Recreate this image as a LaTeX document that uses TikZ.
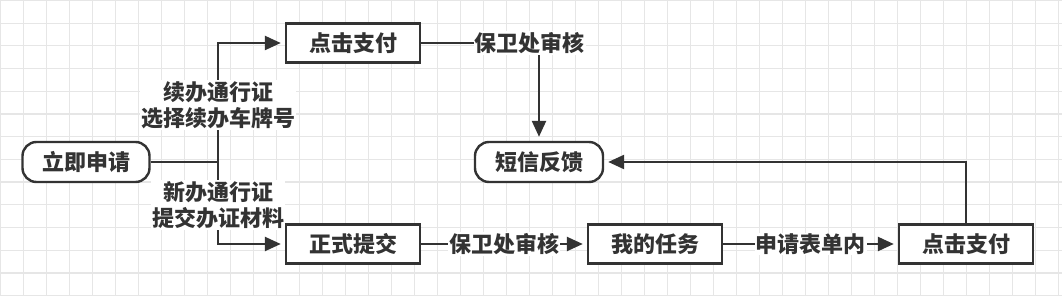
\documentclass[tikz,border=0pt]{standalone}
\usepackage{fontspec}
\setmainfont{Noto Sans CJK SC}
\usepackage{xcolor}
\usepackage{tikz}
\usetikzlibrary{arrows.meta, calc}
\definecolor{FlowInk}{HTML}{333333}
\definecolor{GridGray}{HTML}{E6E6E6}

\tikzset{
  gridline/.style={GridGray, line width=1.2pt},
  stepbox/.style={draw=FlowInk, line width=2.4pt, fill=white, minimum width=134pt,
    minimum height=39pt, inner sep=0pt, text=FlowInk, font=\fontsize{22}{26}\selectfont\bfseries},
  endbox/.style={stepbox, rounded corners=14pt, minimum width=127pt, minimum height=40pt},
  flow/.style={draw=FlowInk, line width=2.4pt, -{Triangle[length=16pt,width=14pt]}, shorten >=4pt},
  plain/.style={draw=FlowInk, line width=2.4pt},
  lbl/.style={fill=white, inner sep=1pt, text=FlowInk, align=center,
    font=\fontsize{22}{26}\selectfont\bfseries}
}

\begin{document}
\begin{tikzpicture}[x=1pt, y=-1pt]
  \useasboundingbox (0,0) rectangle (1062,296);
  \fill[white] (0,0) rectangle (1062,296);
  % background grid
  \foreach \i in {0,...,46}
    \draw[gridline] (\i*23+0.5,0) -- (\i*23+0.5,296);
  \foreach \j in {0,...,13}
    \draw[gridline] (0,\j*22.7+0.5) -- (1062,\j*22.7+0.5);

  % steps
  \node[endbox]  (apply)  at (86,162)  {立即申请};
  \node[stepbox] (payTop) at (353,43)  {点击支付};
  \node[stepbox] (submit) at (353,244) {正式提交};
  \node[endbox, minimum width=128pt] (sms) at (539,162) {短信反馈};
  \node[stepbox] (task)   at (655,244) {我的任务};
  \node[stepbox] (payEnd) at (966,244) {点击支付};
  \coordinate (split) at (218,162);

  % connectors
  \draw[plain] (apply.east) -- (split);
  \draw[flow] (split) |- (payTop.west);
  \draw[flow] (split) |- (submit.west);
  \node[lbl] (renewLbl) at (218,105) {续办通行证\\选择续办车牌号};
  \node[lbl] (newLbl)   at (218,205) {新办通行证\\提交办证材料};
  \draw[flow] (payTop.east) -| (sms.north)
    node[lbl, pos=0.46] (checkTop) {保卫处审核};
  \draw[flow] (submit.east) -- (task.west)
    node[lbl, pos=0.5] (checkBot) {保卫处审核};
  \draw[flow] (task.east) -- (payEnd.west)
    node[lbl, pos=0.5] (formLbl) {申请表单内};
  \draw[flow] (payEnd.north) |- (sms.east);
\end{tikzpicture}
\end{document}
